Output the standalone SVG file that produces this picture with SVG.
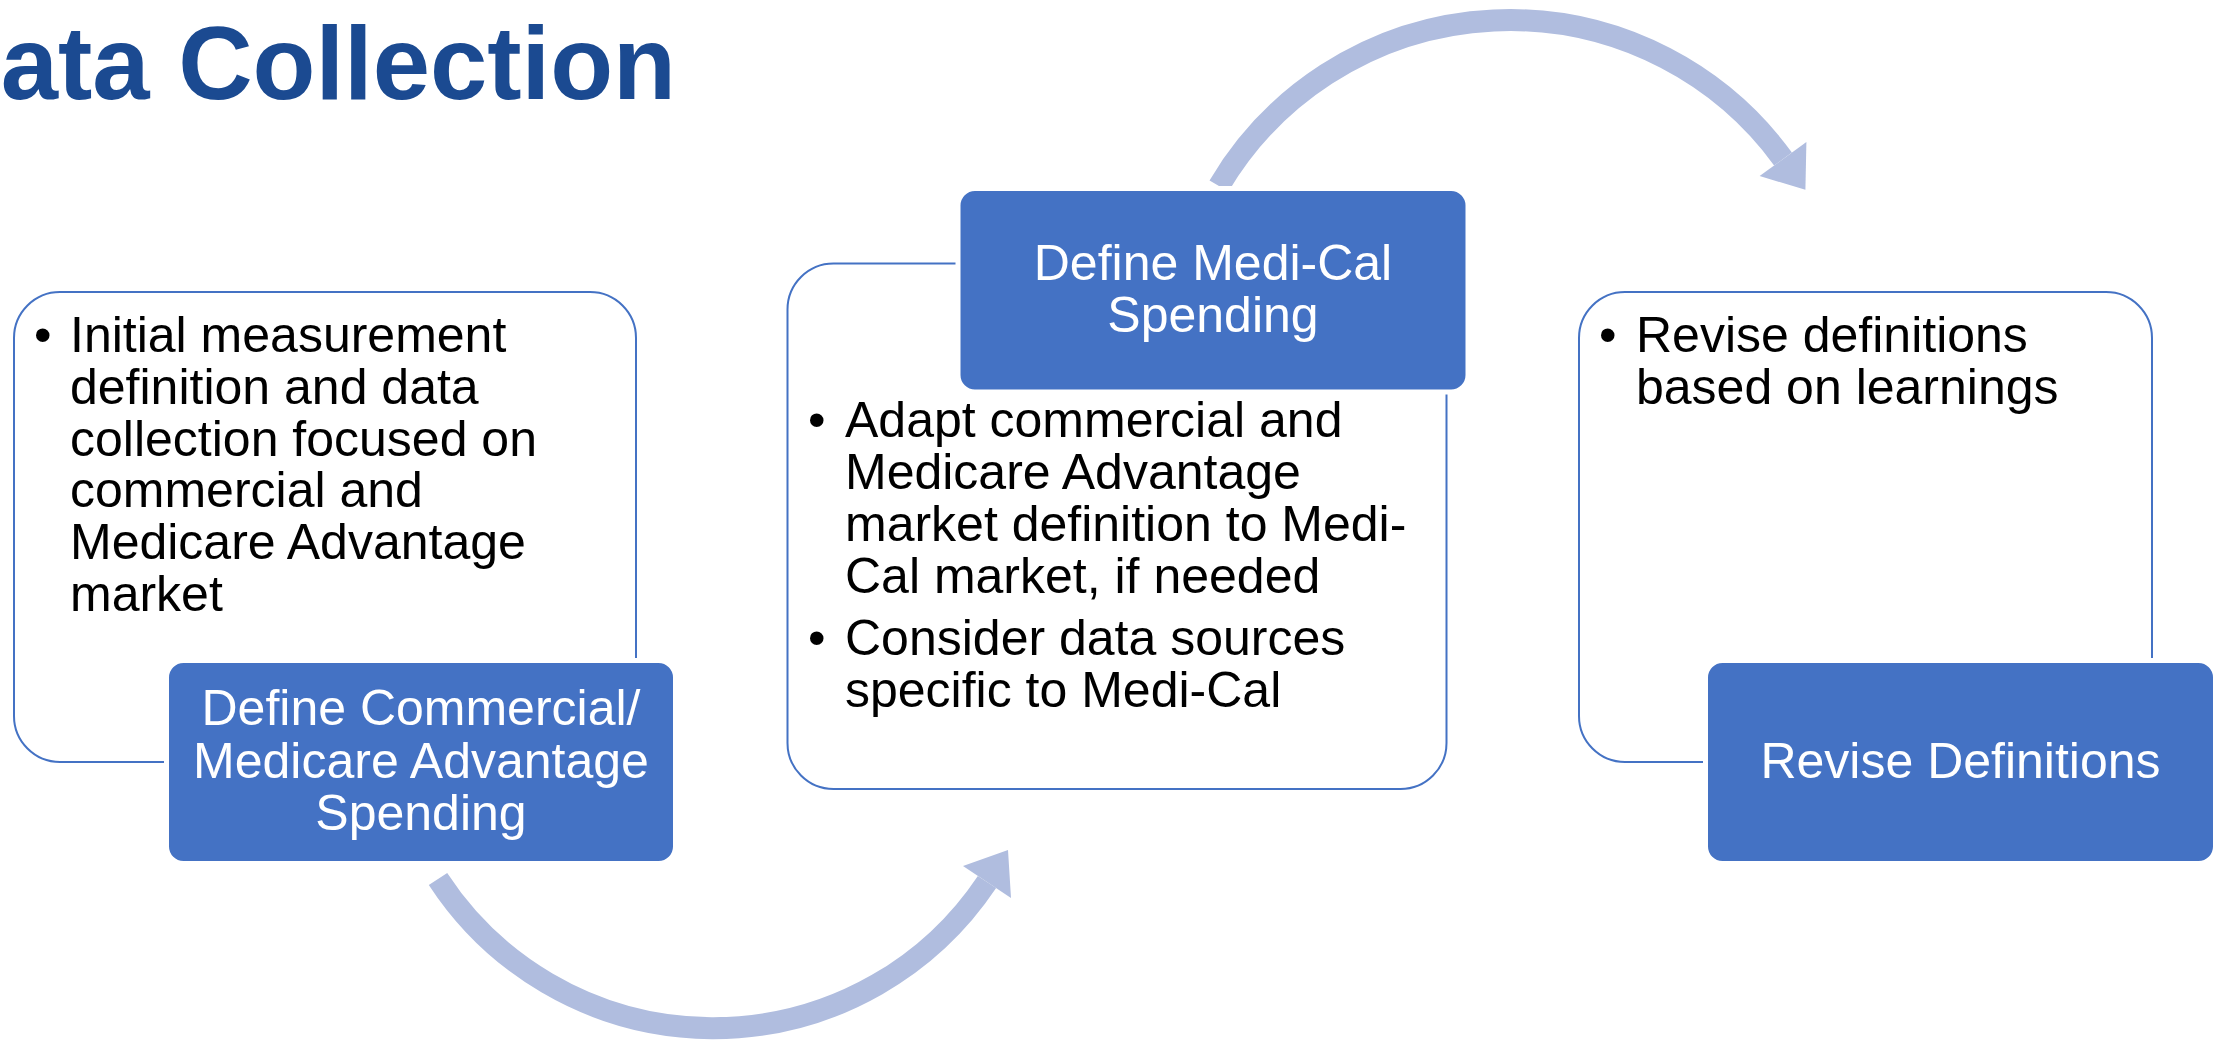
<svg xmlns="http://www.w3.org/2000/svg" width="2221" height="1040" viewBox="0 0 2221 1040">
<style>
.outline{fill:#fff;stroke:#4472C4;stroke-width:2}
.head{fill:#4472C4;stroke:#fff;stroke-width:5}
.body{font-family:"Liberation Sans",Arial,sans-serif;font-size:50px;fill:#000}
.htext{font-family:"Liberation Sans",Arial,sans-serif;font-size:50px;fill:#fff;text-anchor:middle}
.arc{fill:none;stroke:#B0BDDF;stroke-width:22;stroke-linecap:butt}
.tip{fill:#B0BDDF}
.title{font-family:"Liberation Sans",Arial,sans-serif;font-size:103px;font-weight:bold;fill:#1B4A91}
</style>
<rect width="2221" height="1040" fill="#fff"/>
<text class="title" x="676" y="99" text-anchor="end">Data Collection</text>
<g id="connectors">
  <path class="arc" d="M 438 879 A 329 329 0 0 0 987 882"/>
  <polygon class="tip" points="1011,898 963,866 1008,850"/>
  <path class="arc" d="M 1219 186 A 338 338 0 0 1 1783 159"/>
  <polygon class="tip" points="1806.4,141.9 1759.6,176.1 1805.4,189.7"/>
</g>
<g id="node-commercial">
  <rect class="outline" x="14" y="292" width="622" height="470" rx="46"/>
  <text class="body"><tspan x="34" y="352">•</tspan><tspan x="70" y="352">Initial measurement</tspan><tspan x="70" y="404">definition and data</tspan><tspan x="70" y="456">collection focused on</tspan><tspan x="70" y="507">commercial and</tspan><tspan x="70" y="559">Medicare Advantage</tspan><tspan x="70" y="611">market</tspan></text>
  <rect class="head" x="166.5" y="660.5" width="509" height="203" rx="17"/>
  <text class="htext"><tspan x="421" y="725">Define Commercial/</tspan><tspan x="421" y="778">Medicare Advantage</tspan><tspan x="421" y="830">Spending</tspan></text>
</g>
<g id="node-medical">
  <rect class="outline" x="787.5" y="263.5" width="659" height="525.5" rx="46"/>
  <text class="body"><tspan x="808" y="437">•</tspan><tspan x="845" y="437">Adapt commercial and</tspan><tspan x="845" y="489">Medicare Advantage</tspan><tspan x="845" y="541">market definition to Medi-</tspan><tspan x="845" y="593">Cal market, if needed</tspan><tspan x="808" y="655">•</tspan><tspan x="845" y="655">Consider data sources</tspan><tspan x="845" y="707">specific to Medi-Cal</tspan></text>
  <rect class="head" x="958" y="188.5" width="510" height="203.5" rx="17"/>
  <text class="htext"><tspan x="1213" y="280">Define Medi-Cal</tspan><tspan x="1213" y="332">Spending</tspan></text>
</g>
<g id="node-revise">
  <rect class="outline" x="1579" y="292" width="573" height="470" rx="46"/>
  <text class="body"><tspan x="1599" y="352">•</tspan><tspan x="1636" y="352">Revise definitions</tspan><tspan x="1636" y="404">based on learnings</tspan></text>
  <rect class="head" x="1705.5" y="660.5" width="510" height="203" rx="17"/>
  <text class="htext"><tspan x="1960.5" y="778">Revise Definitions</tspan></text>
</g>
</svg>
